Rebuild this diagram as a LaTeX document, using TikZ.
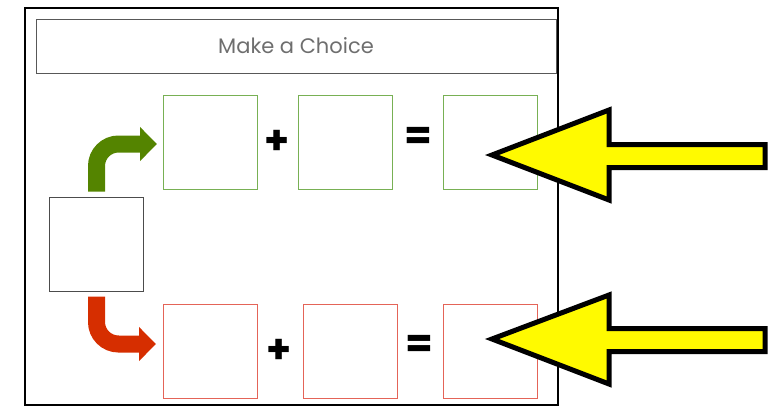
\documentclass[tikz,border=0pt]{standalone}
\usepackage{fontspec}
\setmainfont{Poppins}
\usepackage{tikz}
\usetikzlibrary{arrows.meta, positioning, calc}
\usepackage{xcolor}
\definecolor{boxgreen}{RGB}{120,176,84}
\definecolor{boxred}{RGB}{228,100,88}
\definecolor{arrgreen}{RGB}{84,132,0}
\definecolor{arrred}{RGB}{214,46,0}
\definecolor{hiyellow}{RGB}{255,250,0}
\definecolor{titlegray}{RGB}{110,110,110}

\begin{document}
\begin{tikzpicture}[x=1pt, y=-1pt,
    slot/.style={draw, line width=1pt, minimum size=94pt, inner sep=0pt},
    sign/.style={inner sep=0pt, font=\bfseries\fontsize{40}{40}\selectfont},
    turn/.style={line width=17pt, rounded corners=22pt,
      -{Triangle[length=17pt, width=33pt]}},
    pointer/.style={draw=black, fill=hiyellow, line width=5pt, line join=miter}]
  \useasboundingbox (0,0) rectangle (783,410);
  \draw[line width=2pt] (25,8) rectangle (558,405);
  \node[draw=titlegray!80!black, line width=1pt, minimum width=520pt, minimum height=54pt,
    text=titlegray, font=\fontsize{21}{21}\selectfont] (title) at (296,46) {Make a Choice};
  \node[slot, draw=black!70] (choice) at (96.5,244) {};
  % green row
  \node[slot, draw=boxgreen] (g1) at (210.5,142) {};
  \node[slot, draw=boxgreen] (g2) at (345,142) {};
  \node[slot, draw=boxgreen] (g3) at (490,142) {};
  \node[sign] (gplus) at (277.5,142) {+};
  \node[sign] (geq) at (418,138.5) {=};
  % red row
  \node[slot, draw=boxred] (r1) at (210.5,351) {};
  \node[slot, draw=boxred] (r2) at (350,351) {};
  \node[slot, draw=boxred] (r3) at (490,351) {};
  \node[sign] (rplus) at (279,351) {+};
  \node[sign] (req) at (419,346.5) {=};
  \draw[turn, arrgreen] ([yshift=5pt]choice.north) |- ([xshift=-6pt, yshift=-2pt]g1.west);
  \draw[turn, arrred] ([yshift=-5pt]choice.south) |- ([xshift=-7pt, yshift=7pt]r1.west);
  % big yellow pointers
  \draw[pointer] (492,155) -- (609,110) -- (609,144.5) -- (765,144.5) -- (765,167.5)
    -- (609,167.5) -- (609,200) -- cycle;
  \draw[pointer] (492,339) -- (609,295) -- (609,328.5) -- (765,328.5) -- (765,351.5)
    -- (609,351.5) -- (609,384) -- cycle;
\end{tikzpicture}
\end{document}
